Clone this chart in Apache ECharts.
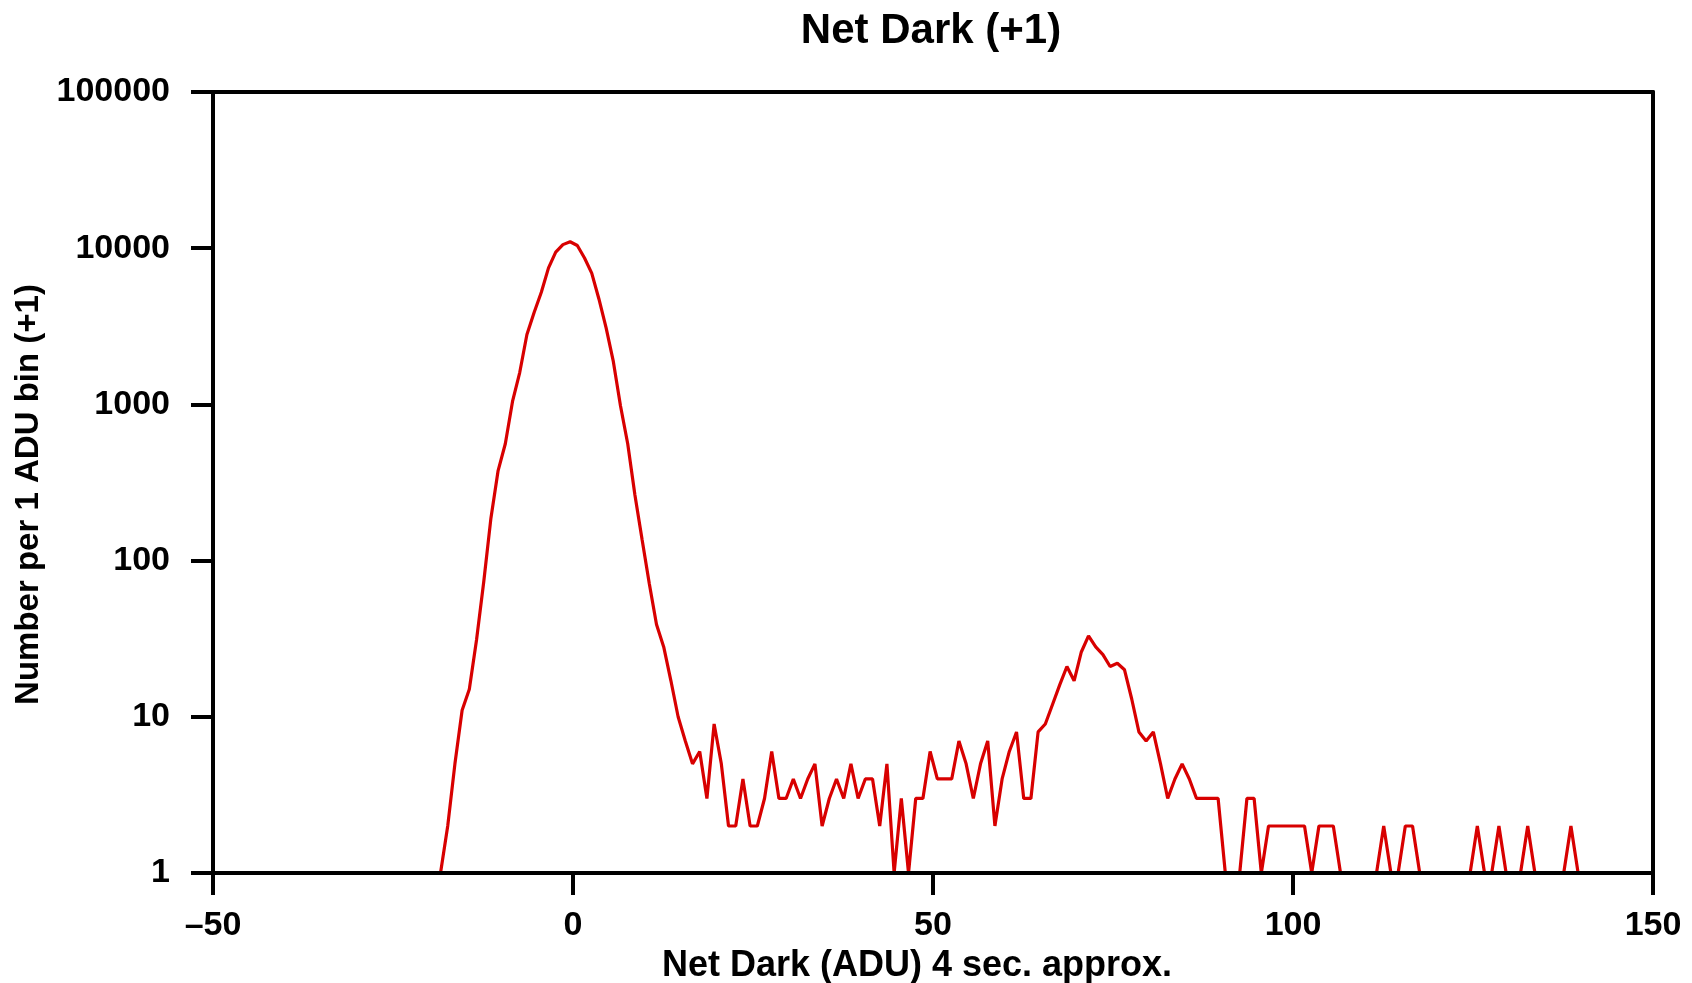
<!DOCTYPE html>
<html>
<head>
<meta charset="utf-8">
<script src="https://cdn.jsdelivr.net/npm/echarts@6/dist/echarts.min.js"></script>
<style>
html,body{margin:0;padding:0;background:#fff;}
#chart{width:1692px;height:983px;}
</style>
</head>
<body>
<div id="chart"></div>
<script>
// ---- data ----
const titleText = 'Net Dark (+1)';
const xAxisName = 'Net Dark (ADU) 4 sec. approx.';
const yAxisName = 'Number per 1 ADU bin (+1)';

const xTickValues = [-50, 0, 50, 100, 150];
const xTickLabels = ['\u201350', '0', '50', '100', '150'];
const yTickValues = [1, 10, 100, 1000, 10000, 100000];
const yTickLabels = ['1', '10', '100', '1000', '10000', '100000'];

// centre of the first 1-ADU bin, and bin width (ADU)
const firstBinCenter = -18.4;
const binWidth = 1;

// counts (+1) per 1 ADU bin, consecutive bins
const counts = [
  1, 2, 5, 11, 15, 31, 73, 187, 377, 560,            // -19 .. -10
  1044, 1600, 2800, 3880, 5220, 7480, 9430, 10540, 11000, // -9 .. -1
  10400, 8650, 6920, 4730, 3090, 1885, 977, 560, 263, 136, // 0 .. 9
  71, 39, 28, 17, 10, 7, 5, 6, 3, 9,                  // 10 .. 19
  5, 2, 2, 4, 2, 2, 3, 6, 3, 3,                       // 20 .. 29
  4, 3, 4, 5, 2, 3, 4, 3, 5, 3,                       // 30 .. 39
  4, 4, 2, 5, 1, 3, 1, 3, 3, 6,                       // 40 .. 49
  4, 4, 4, 7, 5, 3, 5, 7, 2, 4,                       // 50 .. 59
  6, 8, 3, 3, 8, 9, 12, 16, 21, 17,                   // 60 .. 69
  26, 33, 28, 25, 21, 22, 20, 13, 8, 7,               // 70 .. 79
  8, 5, 3, 4, 5, 4, 3, 3, 3, 3,                       // 80 .. 89
  1, 1, 1, 3, 3, 1, 2, 2, 2, 2,                       // 90 .. 99
  2, 2, 1, 2, 2, 2, 1, 1, 1, 1,                       // 100 .. 109
  1, 1, 2, 1, 1, 2, 2, 1, 1, 1,                       // 110 .. 119
  1, 1, 1, 1, 1, 2, 1, 1, 2, 1,                       // 120 .. 129
  1, 1, 2, 1, 1, 1, 1, 1, 2, 1                        // 130 .. 139
];

const seriesData = counts.map((c, i) => [firstBinCenter + i * binWidth, c]);

// ---- chart ----
const FONT = 'Liberation Sans, Arial, sans-serif';
const chart = echarts.init(document.getElementById('chart'), null, {renderer: 'canvas'});

const axisLineStyle = {color: '#000', width: 4};

chart.setOption({
  animation: false,
  backgroundColor: '#fff',
  title: {
    text: titleText,
    left: 926,
    textAlign: 'center',
    top: 5,
    textStyle: {fontFamily: FONT, fontWeight: 'bold', fontSize: 42, color: '#000'}
  },
  grid: {left: 213, right: 39, top: 92, bottom: 110, containLabel: false, outerBoundsMode: 'none'},
  xAxis: [{
    type: 'value',
    min: -50, max: 150, interval: 50,
    position: 'bottom',
    z: 5,
    name: xAxisName,
    nameLocation: 'middle',
    nameGap: 72,
    nameTextStyle: {fontFamily: FONT, fontWeight: 'bold', fontSize: 36, color: '#000', padding: [0, 32, 0, 0]},
    axisLine: {show: true, onZero: false, lineStyle: axisLineStyle},
    axisTick: {show: true, inside: false, length: 22, lineStyle: {color: '#000', width: 4}},
    axisLabel: {
      show: true, margin: 36, color: '#000',
      fontFamily: FONT, fontWeight: 'bold', fontSize: 34,
      formatter: v => { const i = xTickValues.indexOf(v); return i >= 0 ? xTickLabels[i] : ''; }
    },
    splitLine: {show: false}
  }, {
    type: 'value',
    min: -50, max: 150,
    position: 'top',
    z: 5,
    axisLine: {show: true, onZero: false, lineStyle: axisLineStyle},
    axisTick: {show: false},
    axisLabel: {show: false},
    splitLine: {show: false}
  }],
  yAxis: [{
    type: 'log',
    logBase: 10,
    min: 1, max: 100000,
    position: 'left',
    z: 5,
    name: yAxisName,
    nameLocation: 'middle',
    nameGap: 165,
    nameTextStyle: {fontFamily: FONT, fontWeight: 'bold', fontSize: 33, color: '#000', padding: [0, 24, 0, 0]},
    axisLine: {show: true, onZero: false, lineStyle: axisLineStyle},
    axisTick: {show: true, inside: false, length: 22, lineStyle: {color: '#000', width: 4}},
    minorTick: {show: false},
    axisLabel: {
      show: true, margin: 43, color: '#000',
      fontFamily: FONT, fontWeight: 'bold', fontSize: 34,
      formatter: v => { const i = yTickValues.findIndex(t => Math.abs(t - v) < 1e-6 * t); return i >= 0 ? yTickLabels[i] : ''; }
    },
    splitLine: {show: false}
  }, {
    type: 'value',
    min: 0, max: 1,
    position: 'right',
    z: 5,
    axisLine: {show: true, onZero: false, lineStyle: axisLineStyle},
    axisTick: {show: false},
    axisLabel: {show: false},
    splitLine: {show: false}
  }],
  series: [{
    type: 'line',
    xAxisIndex: 0,
    yAxisIndex: 0,
    data: seriesData,
    symbol: 'none',
    z: 2,
    lineStyle: {color: '#d80000', width: 3.2},
    clip: true
  }]
});
</script>
</body>
</html>
